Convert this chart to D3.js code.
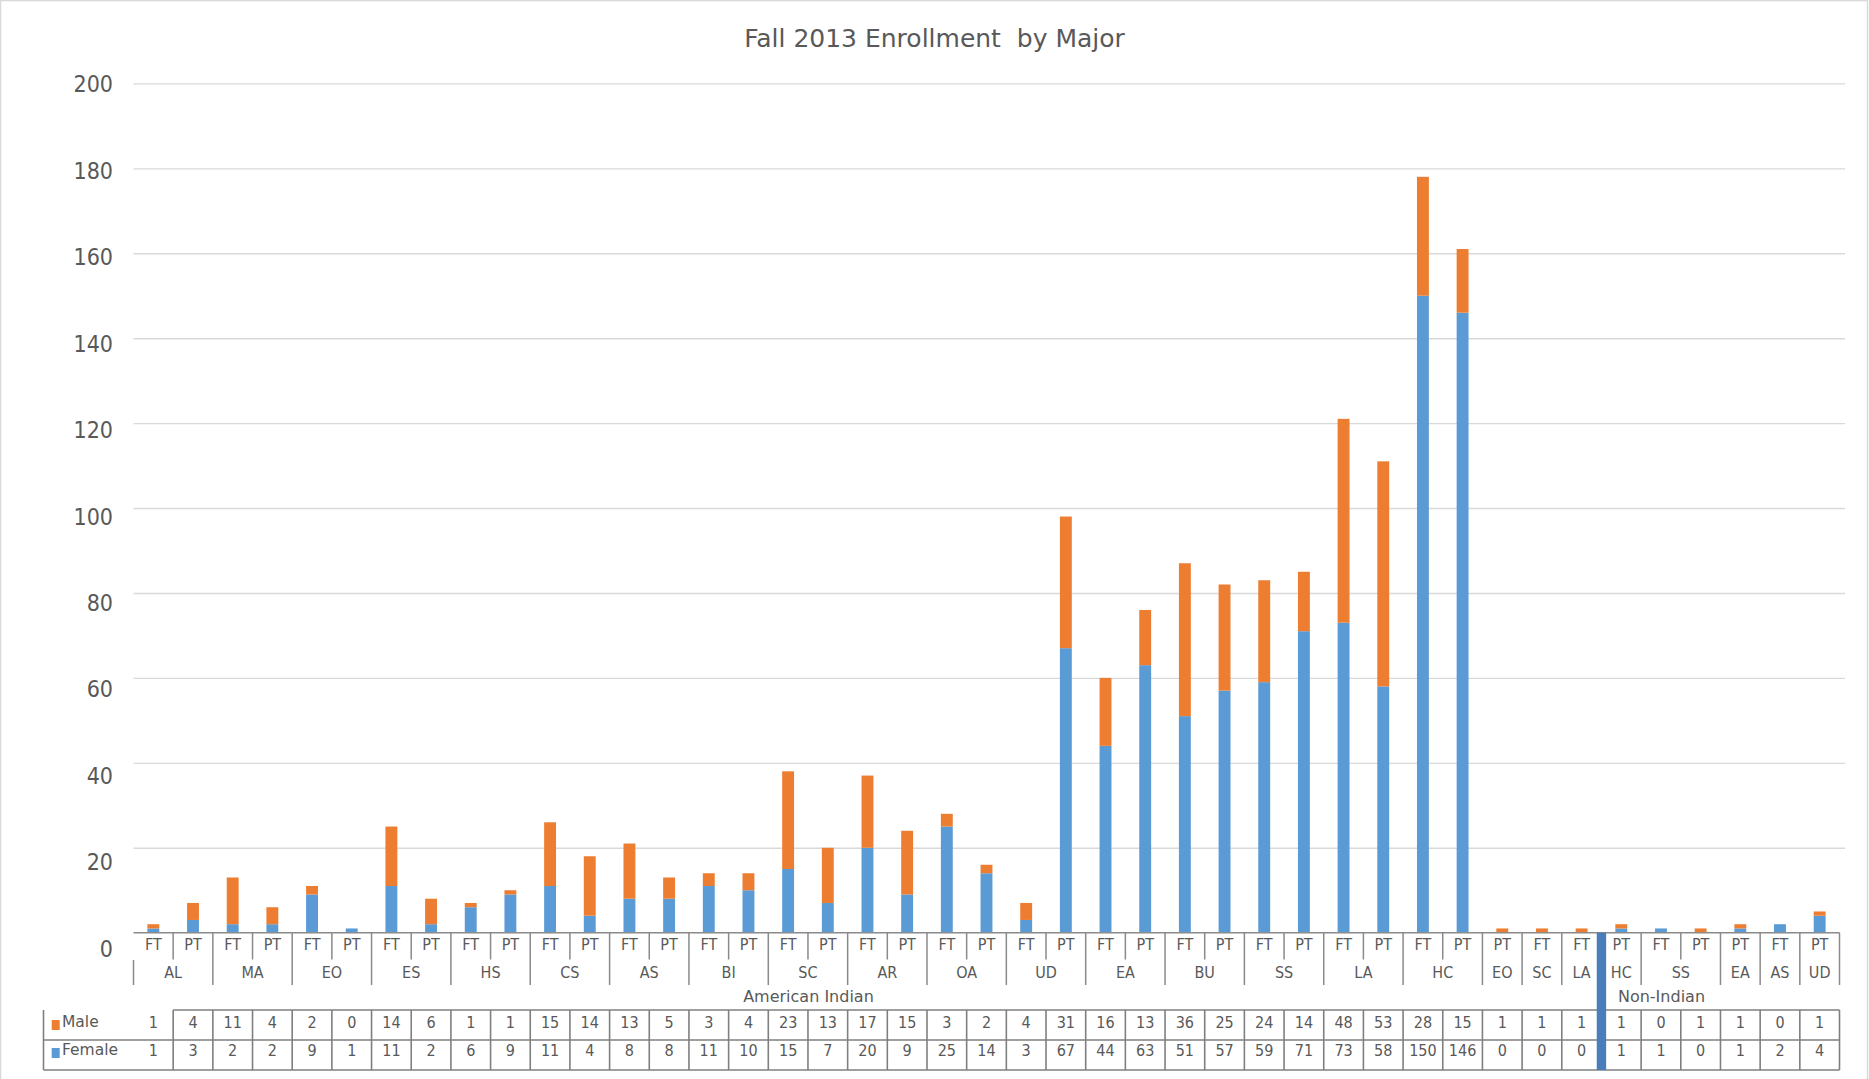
<!DOCTYPE html>
<html>
<head>
<meta charset="utf-8">
<script src="https://cdn.jsdelivr.net/npm/d3@7"></script>
<style>
  body { margin: 0; background: #fff; }
  text { font-family: "DejaVu Sans Condensed", "DejaVu Sans", sans-serif; fill: #595959; }
</style>
</head>
<body>
<div id="main"></div>
<script>
// Fall 2013 enrollment, stacked columns (female below, male on top) + data table

// data
var majors = ["AL","AL","MA","MA","EO","EO","ES","ES","HS","HS","CS","CS","AS","AS","BI","BI",
              "SC","SC","AR","AR","OA","OA","UD","UD","EA","EA","BU","BU","SS","SS","LA","LA",
              "HC","HC","EO","SC","LA",
              "HC","SS","SS","EA","AS","UD"];
var statuses = ["FT","PT","FT","PT","FT","PT","FT","PT","FT","PT","FT","PT","FT","PT","FT","PT",
                "FT","PT","FT","PT","FT","PT","FT","PT","FT","PT","FT","PT","FT","PT","FT","PT",
                "FT","PT","PT","FT","FT",
                "PT","FT","PT","PT","FT","PT"];
var populations = ["American Indian", "Non-Indian"];
var populationSizes = [37, 6]; // number of columns in each population
var male = [1,4,11,4,2,0,14,6,1,1,15,14,13,5,3,4,23,13,17,15,3,2,4,31,16,13,36,25,24,14,48,53,28,15,1,1,1,
            1,0,1,1,0,1];
var female = [1,3,2,2,9,1,11,2,6,9,11,4,8,8,11,10,15,7,20,9,25,14,3,67,44,63,51,57,59,71,73,58,150,146,0,0,0,
              1,1,0,1,2,4];
var yTicks = [0,20,40,60,80,100,120,140,160,180,200];

// layout
var winWidth = 1869,
    winHeight = 1079,
    plotLeft = 133.5,
    plotRight = 1839.5,
    plotTop = 83.4,
    plotBottom = 932.7;

var blue = "#5b9bd5",
    orange = "#ed7d31",
    lineGray = "#8a8a8a",
    gridGray = "#d9d9d9";

var svg = d3.select('#main')
  .append('svg')
  .attr("width", winWidth)
  .attr("height", winHeight);

// chart border
svg.append('rect')
  .attr('x', 0.5).attr('y', 0.5)
  .attr('width', winWidth - 2).attr('height', winHeight + 5)
  .attr('fill', 'none')
  .attr('stroke', gridGray)
  .attr('stroke-width', 1.5);

svg.append('text')
  .attr('x', winWidth / 2)
  .attr('y', 38)
  .attr('text-anchor', 'middle')
  .attr('dominant-baseline', 'central')
  .style('font-family', '"DejaVu Sans", sans-serif')
  .style('font-size', '25px')
  .style('white-space', 'pre')
  .text('Fall 2013 Enrollment  by Major');

// rows for the stack
var rows = majors.map(function(m, i) {
  return { i: i, major: m, status: statuses[i], female: female[i], male: male[i] };
});

var x = d3.scaleBand()
  .domain(d3.range(rows.length))
  .range([plotLeft, plotRight])
  .paddingInner(0.7)
  .paddingOuter(0.35);
var step = x.step();
var colStart = function(i) { return plotLeft + i * step; };

var y = d3.scaleLinear().domain([0, 200]).range([plotBottom, plotTop]);
// tick labels in the picture drift a little below their gridlines
var yLabel = d3.scaleLinear().domain([0, 200]).range([948.8, 84.6]);

// gridlines
svg.append('g')
  .attr('transform', 'translate(' + plotLeft + ',0)')
  .call(d3.axisLeft(y).tickValues(yTicks.slice(1)).tickSize(-(1845 - plotLeft)).tickFormat(''))
  .call(function(g) {
    g.select('.domain').remove();
    g.selectAll('line').attr('stroke', gridGray).attr('stroke-width', 1.4);
  });

// y labels
svg.append('g')
  .attr('transform', 'translate(113,0)')
  .call(d3.axisLeft(yLabel).tickValues(yTicks).tickSize(0).tickPadding(0))
  .call(function(g) {
    g.select('.domain').remove();
    g.selectAll('text')
      .attr('fill', '#595959')
      .style('font-size', '23px')
      .style('font-family', '"DejaVu Sans Condensed", "DejaVu Sans", sans-serif');
  });

// stacked bars
var series = d3.stack().keys(['female', 'male'])(rows);
var colors = { female: blue, male: orange };

svg.append('g').selectAll('g')
  .data(series)
  .join('g')
  .attr('fill', function(s) { return colors[s.key]; })
  .selectAll('rect')
  .data(function(s) { return s; })
  .join('rect')
  .attr('x', function(d) { return x(d.data.i); })
  .attr('y', function(d) { return y(d[1]); })
  .attr('width', x.bandwidth())
  .attr('height', function(d) { return y(d[0]) - y(d[1]); });

// category axis -------------------------------------------------
var axisG = svg.append('g').attr('stroke', lineGray).attr('stroke-width', 1.5);

axisG.append('line')
  .attr('x1', plotLeft).attr('x2', plotRight)
  .attr('y1', plotBottom).attr('y2', plotBottom);

// runs of the same major inside the same population
var popOf = [];
populations.forEach(function(p, k) {
  for (var j = 0; j < populationSizes[k]; j++) popOf.push(p);
});
var runs = [];
rows.forEach(function(r, i) {
  var last = runs[runs.length - 1];
  if (last && last.major === r.major && popOf[last.start] === popOf[i]) last.end = i + 1;
  else runs.push({ major: r.major, start: i, end: i + 1 });
});

// short dividers between FT and PT inside a run
runs.forEach(function(r) {
  for (var i = r.start + 1; i < r.end; i++) {
    axisG.append('line')
      .attr('x1', colStart(i)).attr('x2', colStart(i))
      .attr('y1', plotBottom).attr('y2', 959.5);
  }
});
// long dividers between runs
runs.forEach(function(r, k) {
  var top = k === 0 ? 960 : plotBottom;
  axisG.append('line')
    .attr('x1', colStart(r.start)).attr('x2', colStart(r.start))
    .attr('y1', top).attr('y2', 985);
});
axisG.append('line')
  .attr('x1', plotRight).attr('x2', plotRight)
  .attr('y1', plotBottom).attr('y2', 985);

// FT / PT labels
svg.append('g').selectAll('text')
  .data(rows)
  .join('text')
  .attr('x', function(d) { return colStart(d.i) + step / 2; })
  .attr('y', 944)
  .attr('text-anchor', 'middle')
  .attr('dominant-baseline', 'central')
  .style('font-size', '16px')
  .text(function(d) { return d.status; });

// major labels
svg.append('g').selectAll('text')
  .data(runs)
  .join('text')
  .attr('x', function(d) { return colStart(d.start) + (d.end - d.start) * step / 2; })
  .attr('y', 972)
  .attr('text-anchor', 'middle')
  .attr('dominant-baseline', 'central')
  .style('font-size', '16px')
  .text(function(d) { return d.major; });

// population labels
var popStart = 0;
populations.forEach(function(p, k) {
  var cx = colStart(popStart) + populationSizes[k] * step / 2 - 59;
  svg.append('text')
    .attr('x', cx)
    .attr('y', 996)
    .attr('text-anchor', 'middle')
    .attr('dominant-baseline', 'central')
    .style('font-family', '"DejaVu Sans", sans-serif')
    .style('font-size', '16px')
    .text(p);
  popStart += populationSizes[k];
});

// data table ---------------------------------------------------
var tableTop = 1010,
    tableMid = 1040,
    tableBottom = 1070,
    tableLeft = 43.5;
var tableG = svg.append('g').attr('stroke', '#7f7f7f').attr('stroke-width', 1.6);

tableG.append('line').attr('x1', colStart(1)).attr('x2', plotRight).attr('y1', tableTop).attr('y2', tableTop);
tableG.append('line').attr('x1', tableLeft).attr('x2', plotRight).attr('y1', tableMid).attr('y2', tableMid);
tableG.append('line').attr('x1', tableLeft).attr('x2', plotRight).attr('y1', tableBottom).attr('y2', tableBottom);
tableG.append('line').attr('x1', tableLeft).attr('x2', tableLeft).attr('y1', tableTop).attr('y2', tableBottom);
tableG.selectAll('line.col')
  .data(d3.range(1, rows.length + 1))
  .join('line')
  .attr('class', 'col')
  .attr('x1', function(i) { return colStart(i); })
  .attr('x2', function(i) { return colStart(i); })
  .attr('y1', tableTop).attr('y2', tableBottom);

var tableRows = [
  { name: 'Male', values: male, color: orange, y: 1022 },
  { name: 'Female', values: female, color: blue, y: 1050 }
];
tableRows.forEach(function(tr) {
  svg.append('rect')
    .attr('x', 51.7).attr('y', tr.y - 2)
    .attr('width', 8).attr('height', 10)
    .attr('fill', tr.color);
  svg.append('text')
    .attr('x', 62).attr('y', tr.y)
    .attr('dominant-baseline', 'central')
    .style('font-family', '"DejaVu Sans", sans-serif')
    .style('font-size', '15.5px')
    .text(tr.name);
  svg.append('g').selectAll('text')
    .data(tr.values)
    .join('text')
    .attr('x', function(v, i) { return colStart(i) + step / 2; })
    .attr('y', tr.y)
    .attr('text-anchor', 'middle')
    .attr('dominant-baseline', 'central')
    .style('font-size', '16px')
    .text(function(v) { return v; });
});

// the thick blue marker between the two populations
svg.append('rect')
  .attr('x', colStart(populationSizes[0]) - 4.7)
  .attr('y', plotBottom)
  .attr('width', 9.4)
  .attr('height', tableBottom - plotBottom)
  .attr('fill', '#4a7ebb');
</script>
</body>
</html>
